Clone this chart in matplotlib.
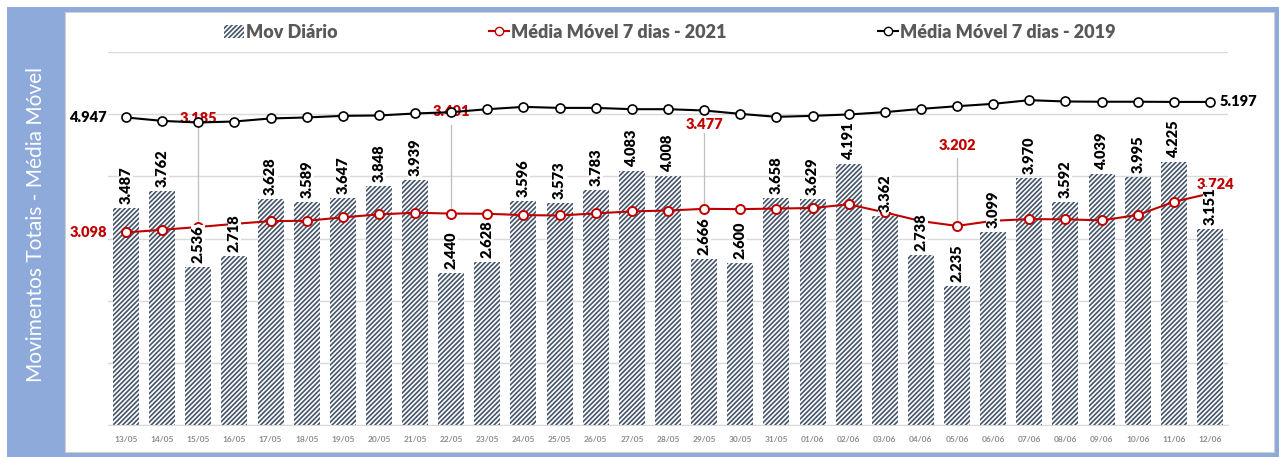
import numpy as np
import matplotlib
matplotlib.use("Agg")
import matplotlib.pyplot as plt
from matplotlib.patches import Rectangle, Patch
from matplotlib.lines import Line2D

# dados
datas = ["13/05", "14/05", "15/05", "16/05", "17/05", "18/05", "19/05", "20/05",
         "21/05", "22/05", "23/05", "24/05", "25/05", "26/05", "27/05", "28/05",
         "29/05", "30/05", "31/05", "01/06", "02/06", "03/06", "04/06", "05/06",
         "06/06", "07/06", "08/06", "09/06", "10/06", "11/06", "12/06"]
mov_diario = [3487, 3762, 2536, 2718, 3628, 3589, 3647, 3848, 3939, 2440, 2628,
              3596, 3573, 3783, 4083, 4008, 2666, 2600, 3658, 3629, 4191, 3362,
              2738, 2235, 3099, 3970, 3592, 4039, 3995, 4225, 3151]
mm_2021 = [3098, 3140, 3185, 3235, 3280, 3285, 3340, 3388, 3414, 3401, 3398,
           3376, 3370, 3404, 3436, 3450, 3477, 3472, 3482, 3490, 3550, 3420,
           3280, 3202, 3285, 3312, 3308, 3292, 3378, 3590, 3724]
mm_2019 = [4947, 4892, 4866, 4882, 4931, 4947, 4973, 4979, 5011, 5032, 5080,
           5117, 5101, 5101, 5080, 5080, 5059, 5005, 4957, 4973, 4995, 5032,
           5085, 5128, 5166, 5225, 5204, 5200, 5200, 5197, 5197]
rotulos_2021 = [2, 9, 16, 23]  # rotulos com linha de chamada
# altura do rotulo e inicio da linha de chamada (em unidades do eixo)
rotulo_y = [4938, 5035, 4841, 4488]
chamada_y = [4830, 4826, 4697, 4295]

def fmt(v):
    return f"{v:,}".replace(",", ".")

plt.rcParams['font.family'] = ['Lato', 'DejaVu Sans']
plt.rcParams['hatch.linewidth'] = 1.2

VERMELHO = "#C00000"
AZUL = "#8EAADB"
BARRA = "#44546A"
PESO = 800
HACHURA = "///////"

fig = plt.figure(figsize=(12.79, 4.57), dpi=100)
W, H = 1279, 457

# moldura azul + painel branco
fig.patches.append(Rectangle((7 / W, 0), 1 - 7 / W, (H - 7) / H, transform=fig.transFigure,
                             facecolor=AZUL, edgecolor="none", zorder=-3))
fig.patches.append(Rectangle((65 / W, 5 / H), (1274 - 65) / W, (452 - 12) / H,
                             transform=fig.transFigure, facecolor="white",
                             edgecolor="#D0D0D0", linewidth=0.8, zorder=-2))
fig.text(36 / W, 1 - 224 / H, "Movimentos Totais - Média Móvel", rotation=90,
         ha="center", va="center", color="white", fontsize=15)

ax = fig.add_axes([108 / W, (H - 425) / H, 1120 / W, 373 / H])
ax.set_facecolor("none")
x = np.arange(len(datas))

ax.bar(x, mov_diario, width=0.72, facecolor="white", edgecolor=BARRA,
       hatch=HACHURA, linewidth=0, zorder=2)
ax.plot(x, mm_2021, color=VERMELHO, lw=1.5, marker="o", ms=6.5, mfc="white",
        mec=VERMELHO, mew=1.4, zorder=3)
ax.plot(x, mm_2019, color="black", lw=1.5, marker="o", ms=6.5, mfc="white",
        mec="black", mew=1.2, zorder=3)

# rotulos das barras
for i, v in enumerate(mov_diario):
    ax.annotate(fmt(v), (i, v), xytext=(0, 4), textcoords="offset pixels",
                rotation=90, ha="center", va="bottom", fontsize=10.5,
                fontweight=PESO, color="black", zorder=5,
                bbox=dict(facecolor="white", edgecolor="none", pad=0.3))

# rotulos da media 2021 com linha de chamada
for i, ty, ly in zip(rotulos_2021, rotulo_y, chamada_y):
    ax.text(i, ty, fmt(mm_2021[i]), ha="center", va="center", fontsize=10.5,
            fontweight=PESO, color=VERMELHO, zorder=2.5)
    ax.plot([i, i], [ly, mm_2021[i]], color="#BFBFBF", lw=0.9, zorder=2.2)

ax.annotate(fmt(mm_2021[0]), (0, mm_2021[0]), xytext=(-19, 0), textcoords="offset pixels",
            ha="right", va="center", fontsize=10.5, fontweight=PESO, color=VERMELHO)
ax.annotate(fmt(mm_2021[-1]), (30, mm_2021[-1]), xytext=(-13, 9), textcoords="offset pixels",
            ha="left", va="center", fontsize=10.5, fontweight=PESO, color=VERMELHO)
ax.annotate(fmt(mm_2019[0]), (0, mm_2019[0]), xytext=(-19, 0), textcoords="offset pixels",
            ha="right", va="center", fontsize=10.5, fontweight=PESO, color="black")
ax.annotate(fmt(mm_2019[-1]), (30, mm_2019[-1]), xytext=(10, 0), textcoords="offset pixels",
            ha="left", va="center", fontsize=10.5, fontweight=PESO, color="black")

ax.set_xlim(-0.5, len(datas) - 0.5)
ax.set_ylim(0, 6000)
ax.set_yticks(np.arange(0, 6001, 1000))
ax.set_yticklabels([])
ax.tick_params(axis="y", length=0)
ax.set_xticks(x)
ax.set_xticklabels(datas, fontsize=6, color="#8C8C8C", fontweight="bold")
ax.tick_params(axis="x", length=0, pad=8)
ax.grid(axis="y", color="#D9D9D9", lw=1)
ax.set_axisbelow(True)
for s in ["top", "right", "left"]:
    ax.spines[s].set_visible(False)
ax.spines["bottom"].set_color("#D9D9D9")

handles = [
    Patch(facecolor="white", edgecolor=BARRA, hatch=HACHURA, linewidth=0),
    Line2D([], [], color=VERMELHO, lw=1.5, marker="o", ms=6, mfc="white", mec=VERMELHO),
    Line2D([], [], color="black", lw=1.5, marker="o", ms=6, mfc="white", mec="black"),
]
labels = ["Mov Diário", "Média Móvel 7 dias - 2021", "Média Móvel 7 dias - 2019"]
leg = fig.legend(handles, labels, loc="center", bbox_to_anchor=(670 / W, 1 - 32 / H),
                 ncol=3, frameon=False, fontsize=13, handlelength=1.1,
                 handletextpad=0.1, columnspacing=8.4)
for t in leg.get_texts():
    t.set_fontweight(PESO)
    t.set_color("#595959")

fig.savefig("out.png", dpi=100)
